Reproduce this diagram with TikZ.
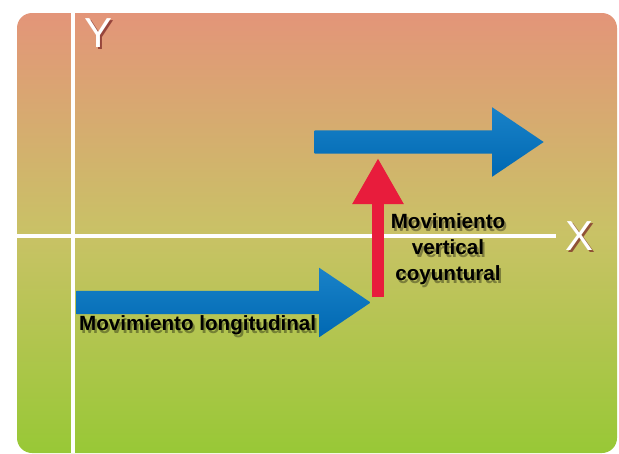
\documentclass[tikz,border=0pt]{standalone}
\usepackage{fontspec}
\setmainfont{Liberation Sans}
\usetikzlibrary{arrows.meta,shapes.arrows}

\definecolor{bgtop}{RGB}{227,149,121}
\definecolor{bgmid}{RGB}{201,194,102}
\definecolor{bgbot}{RGB}{152,200,54}
\definecolor{arrowlight}{RGB}{25,130,200}
\definecolor{arrowdark}{RGB}{0,104,178}
\definecolor{redarrow}{RGB}{232,28,60}
\definecolor{axisshadow}{RGB}{120,35,35}

\tikzset{
  axis/.style={draw=white,line width=4pt},
  axislabel/.style={text=white,font=\fontsize{42}{42}\selectfont,inner sep=0pt},
  labelshadow/.style={axislabel,text=axisshadow,opacity=.7},
  bluearrow/.style={single arrow,top color=arrowlight,bottom color=arrowdark,
    draw=none,inner xsep=0pt,inner ysep=11.5pt,single arrow head extend=23pt,
    single arrow tip angle=68,single arrow head indent=0pt},
  movetext/.style={font=\bfseries\fontsize{20.6}{26}\selectfont,inner sep=0pt,align=center},
  textshadow/.style={movetext,text=black,opacity=.35},
}

\begin{document}
\begin{tikzpicture}[x=1pt,y=-1pt]
  \useasboundingbox (0,0) rectangle (619,453);
  \begin{scope}
    \clip (0,0) rectangle (619,453);
    \shade[top color=bgtop,bottom color=bgbot,middle color=bgmid,rounded corners=15pt]
      (17,13) rectangle (617,453);
  \end{scope}

  % axes
  \coordinate (ytop) at (73,13);
  \coordinate (ybot) at (73,453);
  \coordinate (xleft) at (17,236);
  \coordinate (xright) at (556,236);
  \draw[axis] (ytop) -- (ybot);
  \draw[axis] (xleft) -- (xright);
  \node[labelshadow] (yshadow) at (101,35) {Y};
  \node[axislabel] (ylab) at (99,33) {Y};
  \node[labelshadow] (xshadow) at (582,238) {X};
  \node[axislabel] (xlab) at (580,236) {X};

  % block arrows
  \node[bluearrow,minimum height=229pt] (upper) at (420.5,142) {};
  \node[bluearrow,minimum height=294pt] (lower) at (215,302.5) {};

  \coordinate (vstart) at (378,297);
  \coordinate (vend) at (378,158);
  \draw[redarrow,line width=12pt,-{Triangle[width=48pt,length=46pt]}] (vstart) -- (vend);

  % labels
  \node[textshadow,anchor=west] (longshadow) at (81,328) {Movimiento longitudinal};
  \node[movetext,anchor=west] (longlab) at (79,325) {Movimiento longitudinal};
  \node[textshadow] (vertshadow) at (450,252) {Movimiento\\vertical\\coyuntural};
  \node[movetext] (vertlab) at (448,249) {Movimiento\\vertical\\coyuntural};
\end{tikzpicture}
\end{document}
